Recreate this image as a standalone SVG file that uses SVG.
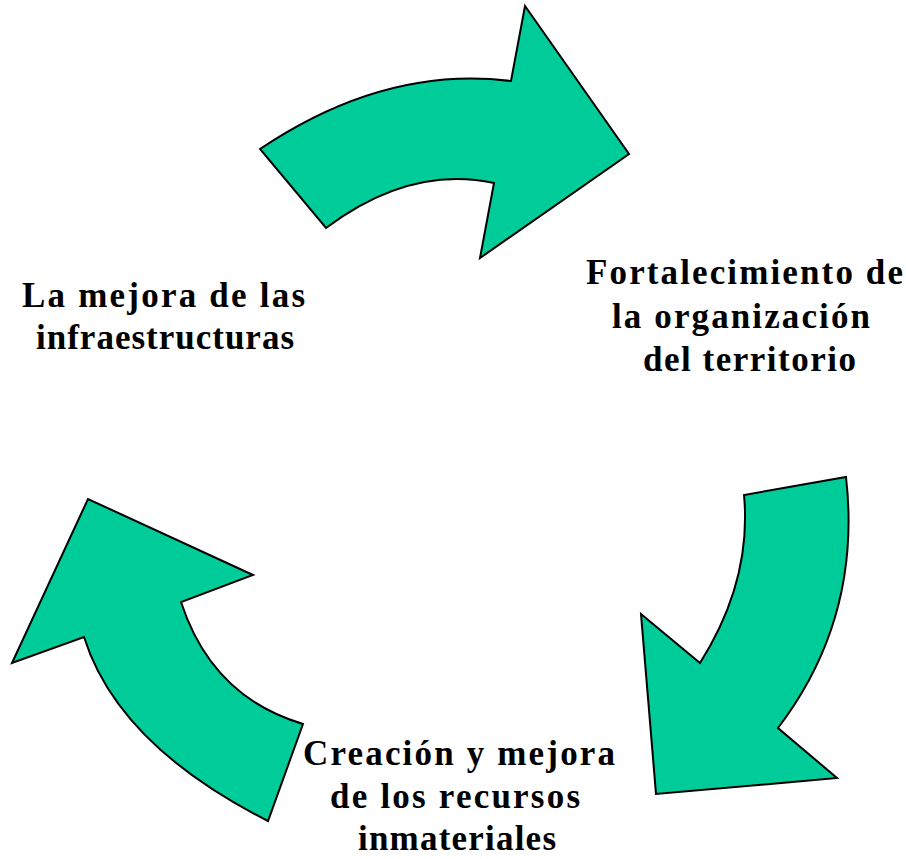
<svg xmlns="http://www.w3.org/2000/svg" width="906" height="859" viewBox="0 0 906 859">
<style>
.arrow{fill:#00CC99;stroke:#000;stroke-width:2;stroke-linejoin:miter}
.lbl{font-family:"Liberation Serif","DejaVu Serif",serif;font-weight:bold;font-size:35px;fill:#000;text-anchor:middle}
</style>
<rect width="906" height="859" fill="#fff"/>
<g id="connectors">
<path id="arrow-top" class="arrow" d="M260,149 Q385,65 511,81 L525,6 L629,154 L480,258 L494,183 Q410,165 326,228 Z"/>
<path id="arrow-right" class="arrow" d="M846,477 Q862,618 778,728 L837,778 L656,794 L641,614 L700,663 Q752,581 744,495 Z"/>
<path id="arrow-left" class="arrow" d="M268,821 Q118,745 84,637 L12,663 L88,499 L253,575 L181,602 Q212,697 303,724 Z"/>
</g>
<g id="node-infra">
<text class="lbl" x="163.5" y="307" textLength="283" lengthAdjust="spacing">La mejora de las</text>
<text class="lbl" x="165" y="349" textLength="258" lengthAdjust="spacing">infraestructuras</text>
</g>
<g id="node-territorio">
<text class="lbl" x="744.5" y="284" textLength="317" lengthAdjust="spacing">Fortalecimiento de</text>
<text class="lbl" x="741" y="328" textLength="258" lengthAdjust="spacing">la organización</text>
<text class="lbl" x="749.5" y="371" textLength="213" lengthAdjust="spacing">del territorio</text>
</g>
<g id="node-recursos">
<text class="lbl" x="459" y="765" textLength="312" lengthAdjust="spacing">Creación y mejora</text>
<text class="lbl" x="455" y="808" textLength="250" lengthAdjust="spacing">de los recursos</text>
<text class="lbl" x="457" y="850" textLength="198" lengthAdjust="spacing">inmateriales</text>
</g>
</svg>
